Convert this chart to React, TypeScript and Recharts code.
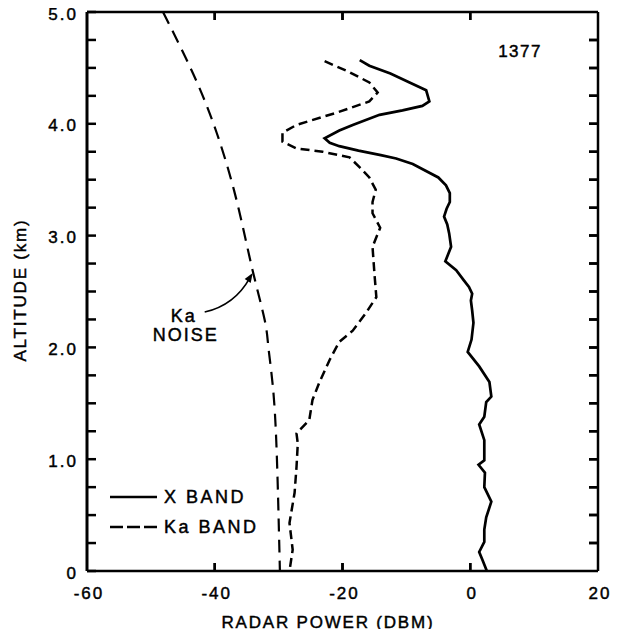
import React from 'react';
import {
  ScatterChart,
  Scatter,
  XAxis,
  YAxis,
  ReferenceDot,
  ReferenceLine,
  Legend,
  Customized,
} from 'recharts';

// altitude (km) / radar power (dBm), read top to bottom
const X_BAND_ALT = [4.57, 4.52, 4.45, 4.37, 4.3, 4.2, 4.16, 4.12, 4.08, 3.99, 3.94, 3.87, 3.83, 3.8, 3.76, 3.72, 3.69, 3.64, 3.58, 3.52, 3.45, 3.38, 3.3, 3.24, 3.17, 3.1, 3.02, 2.9, 2.77, 2.69, 2.6, 2.54, 2.48, 2.42, 2.33, 2.22, 2.07, 1.96, 1.83, 1.69, 1.56, 1.51, 1.38, 1.31, 1.17, 0.99, 0.95, 0.88, 0.75, 0.62, 0.48, 0.37, 0.26, 0.17, 0.1, 0];
const X_BAND_DBM = [-17.3, -15.8, -12.5, -9.5, -6.9, -6.4, -7.5, -10.6, -14.2, -18.4, -20.5, -22.8, -22.0, -20.5, -17.5, -14.0, -11.6, -9.0, -7.0, -5.0, -3.8, -3.2, -3.2, -3.7, -4.1, -3.6, -3.3, -3.0, -3.9, -2.2, -1.0, -0.2, 0.3, 0.1, 0.3, 0.5, 0.2, -0.4, 1.4, 3.0, 3.3, 2.5, 2.2, 1.4, 2.2, 2.2, 1.3, 2.3, 2.2, 3.3, 2.5, 2.2, 2.2, 1.4, 1.9, 2.6];

const KA_BAND_ALT = [4.56, 4.47, 4.37, 4.28, 4.2, 4.1, 3.99, 3.92, 3.84, 3.78, 3.75, 3.7, 3.61, 3.52, 3.41, 3.3, 3.2, 3.07, 2.9, 2.66, 2.45, 2.31, 2.15, 2.05, 1.89, 1.69, 1.53, 1.35, 1.23, 1.14, 0.93, 0.7, 0.43, 0.19, 0];
const KA_BAND_DBM = [-22.8, -19.2, -15.8, -14.5, -15.8, -20.9, -27.2, -29.4, -29.4, -27.2, -23.1, -18.9, -17.3, -15.8, -14.8, -15.3, -15.3, -14.1, -15.3, -15.0, -14.7, -16.3, -18.4, -20.5, -22.0, -23.6, -24.7, -25.2, -27.2, -27.0, -27.2, -27.5, -28.3, -27.8, -28.3];

const KA_NOISE_ALT = [5.0, 4.45, 3.92, 3.32, 2.72, 2.25, 2.0, 1.65, 1.06, 0];
const KA_NOISE_DBM = [-48.1, -43.4, -39.7, -36.6, -34.2, -32.2, -31.6, -30.9, -30.3, -29.8];

const X_MIN = -60;
const X_MAX = 20;
const Y_MAX = 5;
const X_TICKS = [-60, -40, -20, 0, 20];
const X_TICK_LABELS = ['-60', '-40', '-20', '0', '20'];
const X_INNER_TICKS = [-40, -20, 0];
const Y_TICKS = [0, 0.25, 0.5, 0.75, 1, 1.25, 1.5, 1.75, 2, 2.25, 2.5, 2.75, 3, 3.25, 3.5, 3.75, 4, 4.25, 4.5, 4.75, 5];
const Y_TICK_LABELS = ['0', '1.0', '2.0', '3.0', '4.0', '5.0'];

const LEGEND_ITEMS = [
  { name: 'X BAND', dash: undefined },
  { name: 'Ka BAND', dash: '13 4' },
];

const toPoints = (alt: number[], dbm: number[]) => alt.map((a, i) => ({ alt: a, p: dbm[i] }));

const xBand = toPoints(X_BAND_ALT, X_BAND_DBM);
const kaBand = toPoints(KA_BAND_ALT, KA_BAND_DBM);
const kaNoise = toPoints(KA_NOISE_ALT, KA_NOISE_DBM);

const WIDTH = 620;
const HEIGHT = 637;
const MARGIN = { top: 12, right: 22, bottom: 36, left: 27 };
const Y_AXIS_W = 60;
const X_AXIS_H = 30;
const PLOT_LEFT = MARGIN.left + Y_AXIS_W;
const PLOT_RIGHT = WIDTH - MARGIN.right;
const PLOT_TOP = MARGIN.top;
const PLOT_BOTTOM = HEIGHT - MARGIN.bottom - X_AXIS_H;

const FONT = '"Liberation Sans", Arial, Helvetica, sans-serif';
const INK = '#000';
const TICK = 9;

// scanned lettering is heavy, so give the text a thin outline
const textStyle = {
  fontFamily: FONT,
  fontSize: 17,
  fill: INK,
  stroke: INK,
  strokeWidth: 0.45,
  letterSpacing: 2,
};

const LeftTick = ({ x, y, payload }: any) => {
  const v = payload.value;
  const major = Number.isInteger(v);
  return (
    <g>
      <line x1={x} x2={x + TICK} y1={y} y2={y} stroke={INK} strokeWidth={2.5} />
      {major && (
        <text x={x - 9} y={y + 2} textAnchor="end" dominantBaseline="central" style={textStyle}>
          {Y_TICK_LABELS[v]}
        </text>
      )}
    </g>
  );
};

const BottomTick = ({ x, y, index }: any) => (
  <text x={x + 2} y={y + 22} textAnchor="middle" dominantBaseline="central" style={textStyle}>
    {X_TICK_LABELS[index]}
  </text>
);

// inward ticks on the bottom, top and right edges of the frame, as one path
const px = (v: number) => PLOT_LEFT + ((v - X_MIN) / (X_MAX - X_MIN)) * (PLOT_RIGHT - PLOT_LEFT);
const py = (v: number) => PLOT_BOTTOM - (v / Y_MAX) * (PLOT_BOTTOM - PLOT_TOP);
const frameTickPath = [
  ...X_INNER_TICKS.map((v) => `M${px(v)} ${PLOT_BOTTOM}V${PLOT_BOTTOM - 8}M${px(v)} ${PLOT_TOP}V${PLOT_TOP + 8}`),
  ...Y_TICKS.slice(1, -1).map((v) => `M${PLOT_RIGHT} ${py(v)}H${PLOT_RIGHT - TICK}`),
].join('');

const FrameTicks = () => <path d={frameTickPath} stroke={INK} strokeWidth={2.5} fill="none" />;

const NoiseNote = ({ cx, cy }: any) => {
  if (cx == null || cy == null) return <g />;
  const tx = cx - 48;
  const ty = cy + 39;
  const noteStyle = { ...textStyle, fontSize: 18, letterSpacing: 2 };
  return (
    <g>
      <path
        d={`M ${tx} ${ty} Q ${cx - 18} ${cy + 32} ${cx - 3} ${cy + 5}`}
        fill="none"
        stroke={INK}
        strokeWidth={1.6}
      />
      <path d={`M ${cx} ${cy} L ${cx - 8} ${cy + 6} L ${cx - 2} ${cy + 10} Z`} fill={INK} />
      <text x={cx - 69} y={cy + 43} textAnchor="middle" dominantBaseline="central" style={noteStyle}>
        Ka
      </text>
      <text x={cx - 67} y={cy + 62} textAnchor="middle" dominantBaseline="central" style={noteStyle}>
        NOISE
      </text>
    </g>
  );
};

const RunLabel = ({ cx, cy }: any) => (
  <text x={cx} y={cy} textAnchor="middle" dominantBaseline="central" style={{ ...textStyle, fontSize: 17, letterSpacing: 1.5 }}>
    1377
  </text>
);

const LegendBox = () => (
  <svg width={170} height={56}>
    {LEGEND_ITEMS.map((item, i) => (
      <g key={item.name}>
        <line x1={2} x2={49} y1={13 + i * 30} y2={13 + i * 30} stroke={INK} strokeWidth={2.5} strokeDasharray={item.dash} />
        <text x={56} y={13 + i * 30} dominantBaseline="central" style={{ ...textStyle, fontSize: 18, letterSpacing: 2.5 }}>
          {item.name}
        </text>
      </g>
    ))}
  </svg>
);

const AxisTitles = () => (
  <g>
    <FrameTicks />
    <text x={328} y={622} textAnchor="middle" dominantBaseline="central" style={{ ...textStyle, letterSpacing: 1.8 }}>
      RADAR POWER (DBM)
    </text>
    <text
      x={20}
      y={290}
      textAnchor="middle"
      dominantBaseline="central"
      transform="rotate(-90 20 290)"
      style={{ ...textStyle, letterSpacing: 1.8 }}
    >
      ALTITUDE (km)
    </text>
  </g>
);

const hide = () => <g />;

export default function App() {
  return (
    <div style={{ margin: -8, width: WIDTH, height: HEIGHT, background: '#fff', position: 'relative' }}>
      <ScatterChart width={WIDTH} height={HEIGHT} margin={MARGIN}>
        <XAxis
          type="number"
          dataKey="p"
          domain={[X_MIN, X_MAX]}
          ticks={X_TICKS}
          interval={0}
          tickSize={0}
          tickMargin={0}
          height={X_AXIS_H}
          axisLine={{ stroke: INK, strokeWidth: 2.5 }}
          tick={BottomTick}
        />
        <YAxis
          type="number"
          dataKey="alt"
          domain={[0, Y_MAX]}
          ticks={Y_TICKS}
          interval={0}
          tickSize={0}
          tickMargin={0}
          width={Y_AXIS_W}
          axisLine={{ stroke: INK, strokeWidth: 3 }}
          tick={LeftTick}
        />
        <ReferenceLine x={X_MAX} stroke={INK} strokeWidth={2.5} ifOverflow="visible" />
        <ReferenceLine y={Y_MAX} stroke={INK} strokeWidth={2.5} ifOverflow="visible" />
        <Scatter
          name="Ka NOISE"
          data={kaNoise}
          line={{ stroke: INK, strokeWidth: 2.2, strokeDasharray: '13 8' }}
          lineJointType="natural"
          shape={hide}
          legendType="none"
          isAnimationActive={false}
        />
        <Scatter
          name="Ka BAND"
          data={kaBand}
          line={{ stroke: INK, strokeWidth: 2.5, strokeDasharray: '9 5' }}
          shape={hide}
          isAnimationActive={false}
        />
        <Scatter
          name="X BAND"
          data={xBand}
          line={{ stroke: INK, strokeWidth: 2.7 }}
          shape={hide}
          isAnimationActive={false}
        />
        <ReferenceDot x={-34.06} y={2.665} r={0} shape={NoiseNote} />
        <ReferenceDot x={7.8} y={4.65} r={0} shape={RunLabel} />
        <Legend
          layout="vertical"
          align="center"
          verticalAlign="middle"
          content={LegendBox}
          wrapperStyle={{ left: 108, top: 484, width: 170 }}
        />
        <Customized component={AxisTitles} />
      </ScatterChart>
      {/* same frame ticks on a plain overlay, in case the chart layer drops them */}
      <svg
        width={WIDTH}
        height={HEIGHT}
        style={{ position: 'absolute', left: 0, top: 0, pointerEvents: 'none' }}
      >
        <FrameTicks />
      </svg>
    </div>
  );
}
